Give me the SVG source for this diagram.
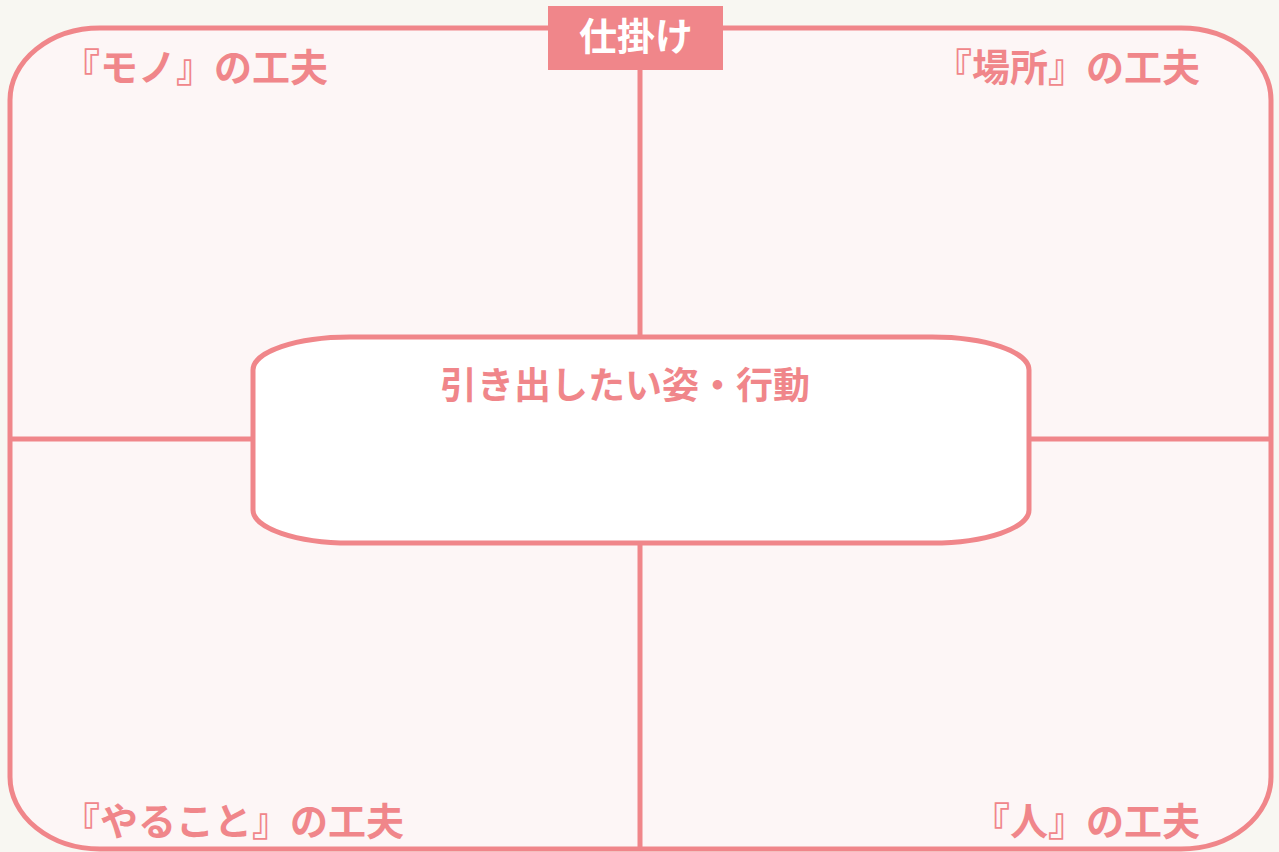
<svg xmlns="http://www.w3.org/2000/svg" width="1279" height="852" viewBox="0 0 1279 852">
<style>
.ln{stroke:#F0868A;stroke-width:5;fill:none}
.lbl{font-family:"Noto Sans CJK JP","Noto Sans CJK SC",sans-serif;font-weight:700;font-size:38px;fill:#F0868A}
.tag{font-family:"Noto Sans CJK JP","Noto Sans CJK SC",sans-serif;font-weight:700;font-size:38px;fill:#FFFFFF}
</style>
<rect x="0" y="0" width="1279" height="852" fill="#F8F7F2"/>
<g id="frame">
<rect x="10" y="28" width="1261" height="821" rx="90" ry="72" fill="#FDF6F6" stroke="#F0868A" stroke-width="5"/>
</g>
<g id="connectors">
<line class="ln" x1="640" y1="28" x2="640" y2="337"/>
<line class="ln" x1="640" y1="543" x2="640" y2="849"/>
<line class="ln" x1="10" y1="439" x2="253" y2="439"/>
<line class="ln" x1="1029" y1="439" x2="1271" y2="439"/>
</g>
<g id="tag">
<rect x="548" y="6" width="175" height="64" fill="#F0868A"/>
<text class="tag" x="636" y="50" text-anchor="middle">仕掛け</text>
</g>
<g id="center">
<rect x="253" y="337" width="776" height="206" rx="97" ry="33" fill="#FFFFFF" stroke="#F0868A" stroke-width="5"/>
<text class="lbl" x="625" y="399" text-anchor="middle" style="font-size:37px">引き出したい姿・行動</text>
</g>
<g id="q-mono"><text class="lbl" x="62" y="81">『モノ』の工夫</text></g>
<g id="q-basho"><text class="lbl" x="1200" y="81" text-anchor="end">『場所』の工夫</text></g>
<g id="q-yaru"><text class="lbl" x="62" y="835">『やること』の工夫</text></g>
<g id="q-hito"><text class="lbl" x="1200" y="835" text-anchor="end">『人』の工夫</text></g>
</svg>
